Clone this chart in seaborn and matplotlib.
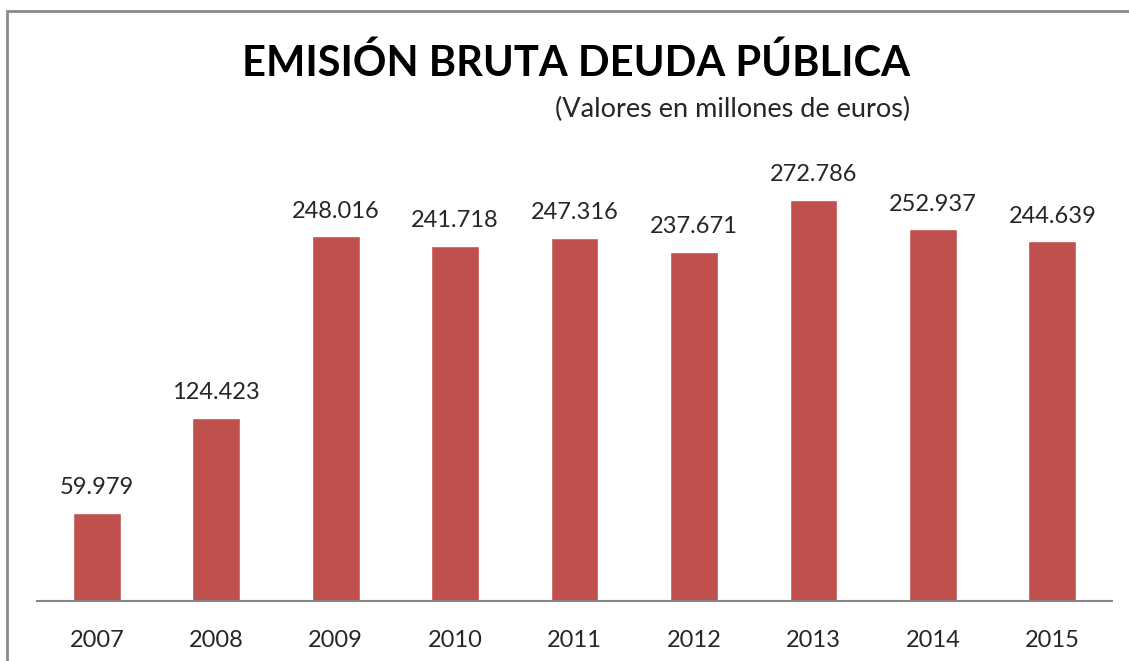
import numpy as np
import pandas as pd
import matplotlib
matplotlib.use("Agg")
import matplotlib.pyplot as plt
import seaborn as sns
from matplotlib.patches import Rectangle

years = ["2007", "2008", "2009", "2010", "2011", "2012", "2013", "2014", "2015"]
emision = [59.979, 124.423, 248.016, 241.718, 247.316, 237.671, 272.786, 252.937, 244.639]

df = pd.DataFrame({"Año": years, "Emisión": emision})

sns.set_style("white")
plt.rcParams['font.family'] = ['Lato', 'DejaVu Sans']

fig = plt.figure(figsize=(11.29, 6.61), dpi=100)
ax = fig.add_axes([0.0328, 0.0908, 0.9522, 0.667])

sns.barplot(data=df, x="Año", y="Emisión", color="#C0504D", width=0.4,
            saturation=1, ax=ax)

for i, v in enumerate(emision):
    ax.text(i, v + 10, f"{v:.3f}", ha="center", va="bottom", fontsize=17)

ax.set_xlim(-0.5, 8.5)
ax.set_ylim(0, 300)
ax.set_xlabel("")
ax.set_ylabel("")
ax.set_yticks([])
ax.tick_params(axis="x", length=0, labelsize=17, pad=21)
for s in ["top", "right", "left"]:
    ax.spines[s].set_visible(False)
ax.spines["bottom"].set_color("#868686")
ax.spines["bottom"].set_linewidth(1.5)

fig.text(0.51, 0.905, "EMISIÓN BRUTA DEUDA PÚBLICA", ha="center", va="center",
         fontsize=30, fontweight="bold", color="black")
fig.text(0.806, 0.835, "(Valores en millones de euros)", ha="right", va="center",
         fontsize=19.5)

# marco del gráfico
fig.patches.append(Rectangle((7 / 1129, -0.1), 1.2, 1.083, transform=fig.transFigure,
                             fill=False, edgecolor="#8a8a8a", linewidth=2))

fig.savefig("out.png", dpi=100)
